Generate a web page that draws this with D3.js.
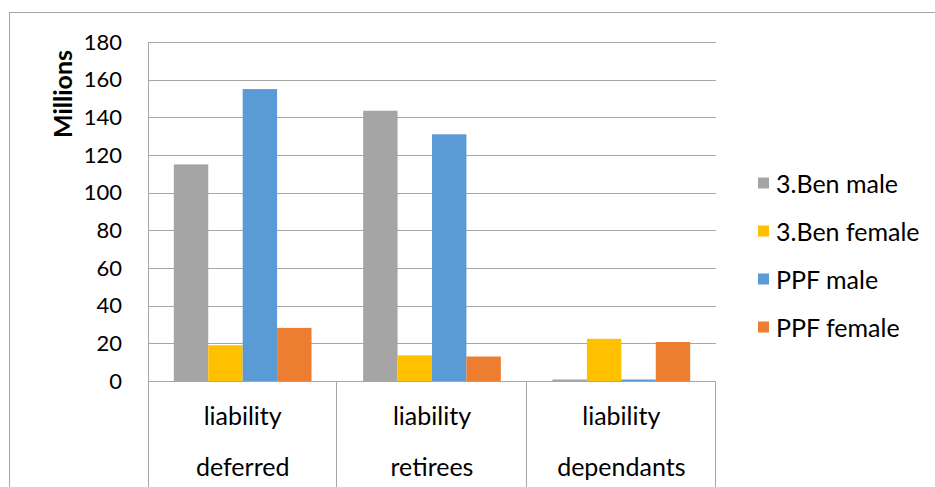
<!DOCTYPE html>
<html><head><meta charset="utf-8">
<script src="https://cdn.jsdelivr.net/npm/d3@7"></script>
<style>
html,body{margin:0;padding:0;background:#fff;}
svg{display:block;}
text{font-family:Lato,"Liberation Sans",sans-serif;fill:#000;}
</style></head>
<body>
<svg id="c" width="935" height="487"></svg>
<script>
const categories = [["liability","deferred"],["liability","retirees"],["liability","dependants"]];
const seriesNames = ["3.Ben male","3.Ben female","PPF male","PPF female"];
const seriesColors = ["#a5a5a5","#ffc000","#5b9bd5","#ed7d31"];
const benMale   = [115, 143.5, 0.8];
const benFemale = [19, 13.6, 22.4];
const ppfMale   = [155, 131, 0.8];
const ppfFemale = [28.2, 13, 20.7];
const yTicks = [0,20,40,60,80,100,120,140,160,180];
const yLabel = "Millions";

const seriesValues = [benMale, benFemale, ppfMale, ppfFemale];
const svg = d3.select("#c");
const L = 148, R = 716, T = 42, B = 381;
const gridColor = "#a6a6a6";
const FONT = "Lato,'Liberation Sans',sans-serif";

// outer chart border
svg.append("rect").attr("x",9.5).attr("y",12.5).attr("width",1000).attr("height",600)
  .attr("fill","none").attr("stroke","#a6a6a6").attr("stroke-width",1);

const y = d3.scaleLinear().domain([0,180]).range([B,T]);
const x0 = d3.scaleBand().domain(d3.range(categories.length)).range([L,R]).padding(0);
const bw = x0.bandwidth()/5.5;
const x1 = d3.scaleBand().domain(d3.range(seriesNames.length))
  .range([bw*0.75, x0.bandwidth()-bw*0.75]).padding(0);

// gridlines
svg.append("g").selectAll("line").data(yTicks.filter(d=>d>0)).join("line")
  .attr("x1",L).attr("x2",R)
  .attr("y1",d=>Math.round(y(d))+0.5).attr("y2",d=>Math.round(y(d))+0.5)
  .attr("stroke",gridColor).attr("stroke-width",1);

// y-axis labels
const yAxis = d3.axisLeft(y).tickValues(yTicks).tickSize(0).tickPadding(0);
const gy = svg.append("g").attr("transform",`translate(${L},0)`).call(yAxis);
gy.select(".domain").remove();
gy.selectAll("text").attr("x",-26).attr("font-size",22).attr("fill","#000")
  .style("font-family",FONT);

// bars
const groups = svg.append("g").selectAll("g").data(categories).join("g")
  .attr("transform",(d,i)=>`translate(${x0(i)},0)`);
groups.selectAll("rect").data((d,i)=>seriesValues.map((s,j)=>({j,v:s[i]}))).join("rect")
  .attr("x",d=>x1(d.j)).attr("width",x1.bandwidth())
  .attr("y",d=>y(d.v)).attr("height",d=>B-y(d.v))
  .attr("fill",d=>seriesColors[d.j]);

// value axis line
svg.append("line").attr("x1",L+0.5).attr("x2",L+0.5).attr("y1",T).attr("y2",487)
  .attr("stroke",gridColor);
// category axis line
svg.append("line").attr("x1",L).attr("x2",R).attr("y1",B+0.5).attr("y2",B+0.5)
  .attr("stroke",gridColor);
// category separators
svg.append("g").selectAll("line").data(d3.range(1,categories.length+1)).join("line")
  .attr("x1",d=>Math.round(x0.step()*d+L)-0.5).attr("x2",d=>Math.round(x0.step()*d+L)-0.5)
  .attr("y1",B).attr("y2",487).attr("stroke",gridColor);

// category labels
const cl = svg.append("g").selectAll("g").data(categories).join("g");
cl.append("text").attr("x",(d,i)=>x0(i)+x0.bandwidth()/2).attr("y",415)
  .attr("text-anchor","middle").attr("dominant-baseline","central").attr("font-size",25)
  .text(d=>d[0]);
cl.append("text").attr("x",(d,i)=>x0(i)+x0.bandwidth()/2).attr("y",466)
  .attr("text-anchor","middle").attr("dominant-baseline","central").attr("font-size",25)
  .text(d=>d[1]);

// y title
svg.append("text").attr("transform","translate(62,94) rotate(-90)")
  .attr("text-anchor","middle").attr("dominant-baseline","central")
  .attr("font-size",25).attr("font-weight","bold").text(yLabel);

// legend
const lg = svg.append("g").selectAll("g").data(seriesNames).join("g")
  .attr("transform",(d,i)=>`translate(758,${183+i*48})`);
lg.append("rect").attr("x",0).attr("y",-5.5).attr("width",11).attr("height",11)
  .attr("fill",(d,i)=>seriesColors[i]);
lg.append("text").attr("x",18).attr("y",0).attr("dominant-baseline","central")
  .attr("font-size",25).text(d=>d);
</script>
</body></html>
